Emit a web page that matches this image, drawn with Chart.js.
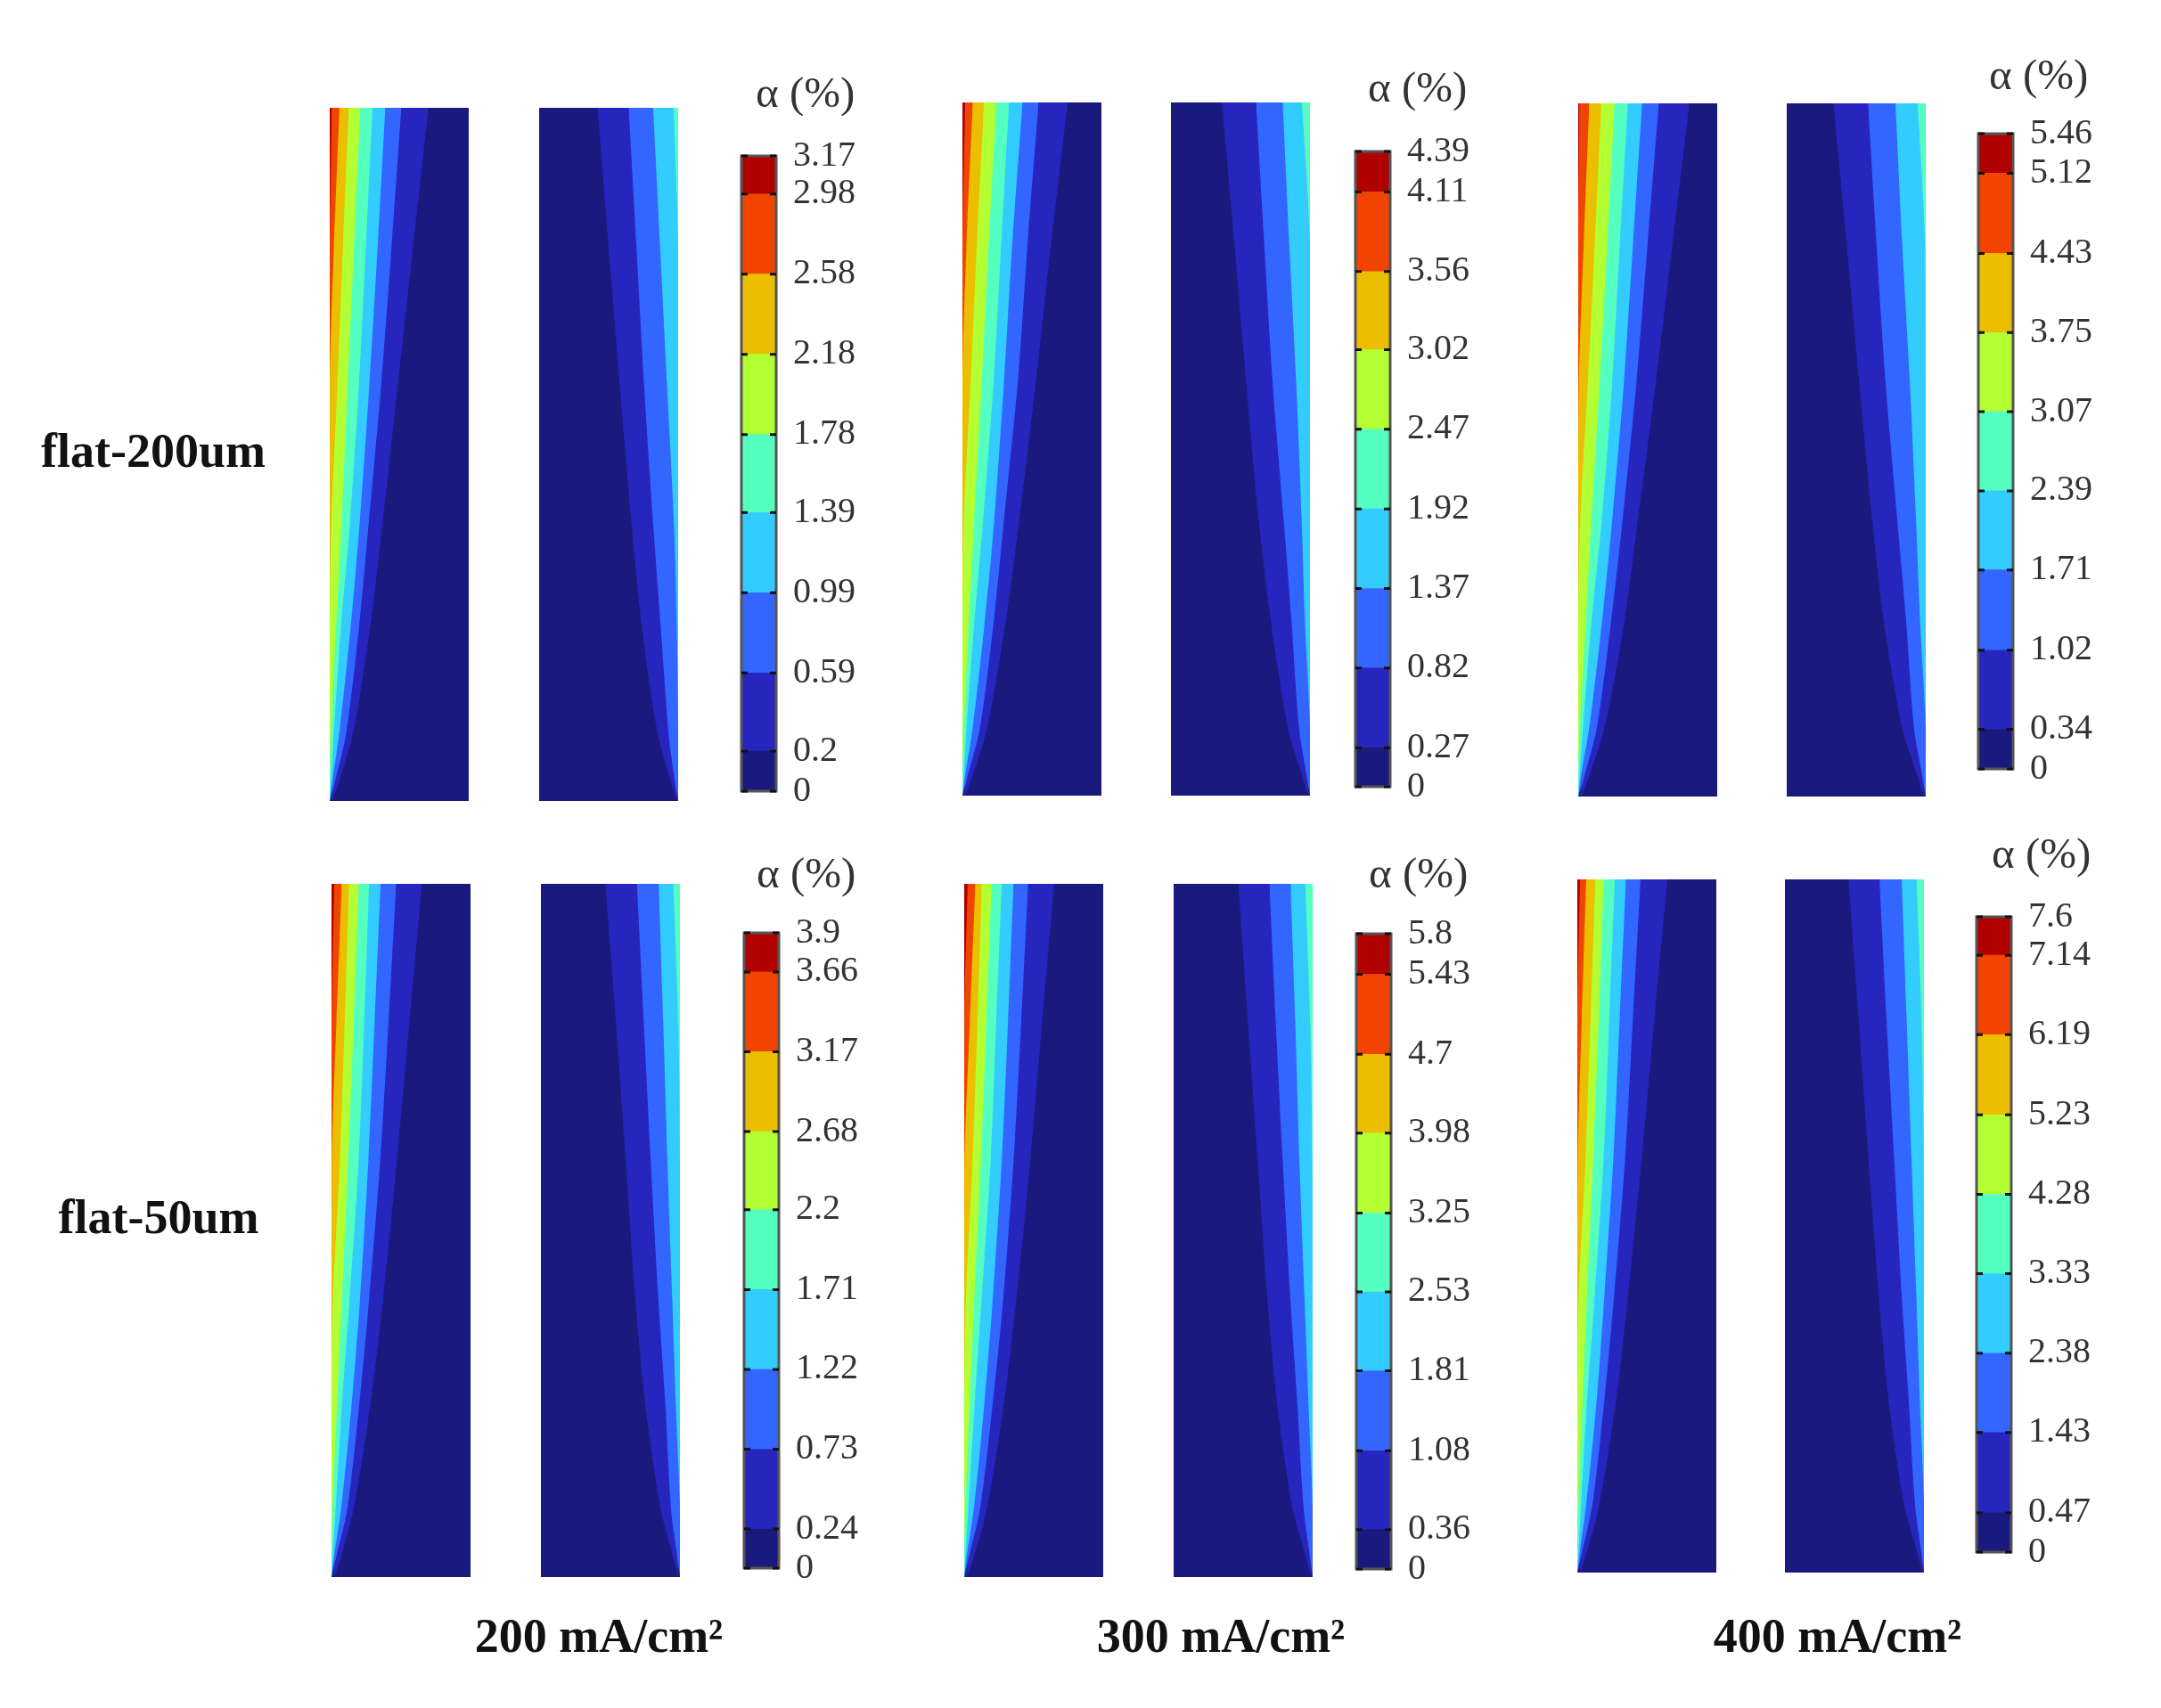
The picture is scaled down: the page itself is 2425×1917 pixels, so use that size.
<!DOCTYPE html>
<html>
<head>
<meta charset="utf-8">
<title>flat-200um / flat-50um</title>
<script src="https://cdn.jsdelivr.net/npm/chart.js@4"></script>
<style>
  html, body { margin: 0; background: #fff; }
  #page { position: relative; width: 2425px; height: 1917px; overflow: hidden; background: #fff; filter: blur(0.7px); }
  canvas { position: absolute; }
  .txt { position: absolute; font-family: "Liberation Serif", serif; white-space: nowrap; transform: translate(-50%, -50%); }
  .bold { font-weight: bold; font-size: 54px; color: #111; }
  .alpha { font-size: 49px; color: #333; transform: translate(0, -50%); }
</style>
</head>
<body>
<div id="page"></div>
<script>
// Colour bar levels
const levels200 = [0, 0.2, 0.59, 0.99, 1.39, 1.78, 2.18, 2.58, 2.98, 3.17];
const levels300 = [0, 0.27, 0.82, 1.37, 1.92, 2.47, 3.02, 3.56, 4.11, 4.39];
const levels400 = [0, 0.34, 1.02, 1.71, 2.39, 3.07, 3.75, 4.43, 5.12, 5.46];
const levels200b = [0, 0.24, 0.73, 1.22, 1.71, 2.2, 2.68, 3.17, 3.66, 3.9];
const levels300b = [0, 0.36, 1.08, 1.81, 2.53, 3.25, 3.98, 4.7, 5.43, 5.8];
const levels400b = [0, 0.47, 1.43, 2.38, 3.33, 4.28, 5.23, 6.19, 7.14, 7.6];

const bandColors = ['#1a1a7e', '#2626bf', '#3366ff', '#33ccff', '#55ffc0', '#b3ff33', '#ebbf00', '#f04400', '#b00000'];

// Relative height in the channel where each contour was read
const heights = [0, 0.03, 0.1, 0.25, 0.4, 0.6, 0.8, 1];

// Contour widths from the outer wall, one row per contour starting at the lowest level
const left200 = [
  [0.02, 0.07, 0.17, 0.29, 0.38, 0.49, 0.6, 0.71],
  [0, 0.04, 0.12, 0.21, 0.28, 0.37, 0.445, 0.515],
  [0, 0.02, 0.07, 0.15, 0.215, 0.285, 0.345, 0.4],
  [0, 0.01, 0.03, 0.08, 0.145, 0.21, 0.26, 0.308],
  [0, 0, 0.01, 0.045, 0.085, 0.13, 0.175, 0.22],
  [0, 0, 0, 0, 0.012, 0.055, 0.095, 0.137],
  [0, 0, 0, 0, 0, 0, 0.03, 0.07],
  [0, 0, 0, 0, 0, 0, 0, 0.015]
];
const right200 = [
  [0.01, 0.055, 0.15, 0.26, 0.335, 0.42, 0.5, 0.58],
  [0, 0.025, 0.07, 0.125, 0.18, 0.245, 0.3, 0.356],
  [0, 0, 0, 0.01, 0.03, 0.08, 0.13, 0.18],
  [0, 0, 0, 0, 0, 0, 0, 0.032]
];
const left300 = [
  [0.02, 0.075, 0.18, 0.31, 0.41, 0.53, 0.64, 0.757],
  [0, 0.04, 0.128, 0.224, 0.3, 0.4, 0.47, 0.548],
  [0, 0.02, 0.075, 0.16, 0.23, 0.3, 0.36, 0.433],
  [0, 0.01, 0.03, 0.085, 0.15, 0.225, 0.28, 0.335],
  [0, 0, 0.01, 0.047, 0.085, 0.14, 0.19, 0.245],
  [0, 0, 0, 0, 0.01, 0.06, 0.105, 0.155],
  [0, 0, 0, 0, 0, 0, 0.03, 0.075],
  [0, 0, 0, 0, 0, 0, 0, 0.02]
];
const right300 = [
  [0.01, 0.058, 0.16, 0.28, 0.37, 0.46, 0.545, 0.633],
  [0, 0.025, 0.08, 0.132, 0.19, 0.27, 0.33, 0.388],
  [0, 0, 0, 0.036, 0.06, 0.1, 0.15, 0.196],
  [0, 0, 0, 0, 0, 0, 0, 0.058]
];
const left400 = [
  [0.02, 0.08, 0.19, 0.33, 0.43, 0.56, 0.68, 0.8],
  [0, 0.045, 0.135, 0.235, 0.32, 0.42, 0.5, 0.58],
  [0, 0.02, 0.08, 0.17, 0.245, 0.33, 0.395, 0.46],
  [0, 0.01, 0.035, 0.095, 0.17, 0.245, 0.3, 0.357],
  [0, 0, 0.012, 0.055, 0.095, 0.155, 0.21, 0.262],
  [0, 0, 0, 0, 0.015, 0.07, 0.12, 0.166],
  [0, 0, 0, 0, 0, 0.005, 0.04, 0.08],
  [0, 0, 0, 0, 0, 0, 0, 0.01]
];
const right400 = [
  [0.01, 0.06, 0.17, 0.3, 0.385, 0.48, 0.57, 0.664],
  [0, 0.025, 0.085, 0.14, 0.205, 0.29, 0.355, 0.415],
  [0, 0, 0, 0.04, 0.07, 0.115, 0.17, 0.218],
  [0, 0, 0, 0, 0, 0, 0.005, 0.058]
];
const left200b = [
  [0.02, 0.07, 0.16, 0.28, 0.37, 0.47, 0.56, 0.65],
  [0, 0.035, 0.115, 0.2, 0.27, 0.35, 0.41, 0.465],
  [0, 0.018, 0.07, 0.145, 0.205, 0.265, 0.31, 0.353],
  [0, 0.008, 0.03, 0.075, 0.13, 0.195, 0.235, 0.27],
  [0, 0, 0.008, 0.04, 0.075, 0.12, 0.16, 0.197],
  [0, 0, 0, 0, 0.01, 0.06, 0.095, 0.127],
  [0, 0, 0, 0, 0, 0.002, 0.035, 0.074],
  [0, 0, 0, 0, 0, 0, 0, 0.02]
];
const right200b = [
  [0.01, 0.05, 0.14, 0.25, 0.32, 0.39, 0.46, 0.536],
  [0, 0.02, 0.065, 0.105, 0.155, 0.21, 0.26, 0.309],
  [0, 0, 0, 0.03, 0.055, 0.09, 0.12, 0.153],
  [0, 0, 0, 0, 0, 0, 0.012, 0.047]
];
const left300b = [
  [0.02, 0.07, 0.165, 0.285, 0.375, 0.475, 0.56, 0.647],
  [0, 0.035, 0.115, 0.205, 0.28, 0.355, 0.41, 0.46],
  [0, 0.018, 0.07, 0.145, 0.205, 0.27, 0.315, 0.355],
  [0, 0.008, 0.03, 0.075, 0.125, 0.19, 0.23, 0.27],
  [0, 0, 0.008, 0.04, 0.072, 0.12, 0.16, 0.197],
  [0, 0, 0, 0, 0.012, 0.06, 0.095, 0.127],
  [0, 0, 0, 0, 0, 0.002, 0.04, 0.08],
  [0, 0, 0, 0, 0, 0, 0, 0.025]
];
const right300b = [
  [0.01, 0.05, 0.145, 0.255, 0.325, 0.395, 0.465, 0.534],
  [0, 0.02, 0.065, 0.11, 0.16, 0.215, 0.265, 0.311],
  [0, 0, 0, 0.03, 0.058, 0.095, 0.125, 0.159],
  [0, 0, 0, 0, 0, 0.002, 0.018, 0.053]
];
const left400b = [
  [0.02, 0.07, 0.16, 0.28, 0.365, 0.465, 0.555, 0.648],
  [0, 0.035, 0.11, 0.195, 0.265, 0.345, 0.4, 0.455],
  [0, 0.018, 0.065, 0.14, 0.195, 0.26, 0.305, 0.35],
  [0, 0.008, 0.028, 0.07, 0.125, 0.19, 0.23, 0.27],
  [0, 0, 0.008, 0.038, 0.07, 0.115, 0.155, 0.19],
  [0, 0, 0, 0, 0.01, 0.06, 0.095, 0.13],
  [0, 0, 0, 0, 0, 0.004, 0.032, 0.064],
  [0, 0, 0, 0, 0, 0, 0, 0.02]
];
const right400b = [
  [0.01, 0.05, 0.145, 0.255, 0.325, 0.4, 0.47, 0.543],
  [0, 0.02, 0.065, 0.11, 0.16, 0.215, 0.27, 0.32],
  [0, 0, 0, 0.03, 0.055, 0.09, 0.125, 0.16],
  [0, 0, 0, 0, 0, 0.002, 0.018, 0.053]
];

const rowLabels = ['flat-200um', 'flat-50um'];
const colLabels = ['200 mA/cm²', '300 mA/cm²', '400 mA/cm²'];
const barTitle = 'α (%)';

// Page layout, in pixels
const panelW = 156, panelH = 778, barW = 39, barH = 713;
const groups = [
  { left: left200, right: right200, levels: levels200, lx: 370, rx: 605, py: 121, bx: 832, by: 175, tx: 848, ty: 103 },
  { left: left300, right: right300, levels: levels300, lx: 1080, rx: 1314, py: 115, bx: 1521, by: 170, tx: 1535, ty: 97 },
  { left: left400, right: right400, levels: levels400, lx: 1771, rx: 2005, py: 116, bx: 2220, by: 150, tx: 2232, ty: 83 },
  { left: left200b, right: right200b, levels: levels200b, lx: 372, rx: 607, py: 992, bx: 835, by: 1047, tx: 849, ty: 979 },
  { left: left300b, right: right300b, levels: levels300b, lx: 1082, rx: 1317, py: 992, bx: 1522, by: 1048, tx: 1536, ty: 979 },
  { left: left400b, right: right400b, levels: levels400b, lx: 1770, rx: 2003, py: 987, bx: 2218, by: 1029, tx: 2235, ty: 957 }
];

const page = document.getElementById('page');
Chart.defaults.animation = false;
Chart.defaults.responsive = false;
Chart.defaults.devicePixelRatio = 1;
Chart.defaults.font.family = '"Liberation Serif", serif';

function addCanvas(x, y, w, h) {
  const c = document.createElement('canvas');
  c.width = w;
  c.height = h;
  c.style.left = x + 'px';
  c.style.top = y + 'px';
  page.appendChild(c);
  return c;
}

function addText(text, x, y, cls) {
  const d = document.createElement('div');
  d.className = 'txt ' + cls;
  d.textContent = text;
  d.style.left = x + 'px';
  d.style.top = y + 'px';
  page.appendChild(d);
}

// One channel: navy base, then every contour filled up to the top of the plot
function drawPanel(x, y, rows, mirrored) {
  const datasets = [{
    data: [{ x: 0, y: 0 }, { x: 1, y: 0 }],
    backgroundColor: bandColors[0], fill: 'end', order: 0
  }];
  rows.forEach((row, i) => {
    datasets.push({
      data: row.map((w, k) => ({ x: w, y: heights[k] })),
      backgroundColor: bandColors[i + 1], fill: 'end', order: -(i + 1)
    });
  });
  new Chart(addCanvas(x, y, panelW, panelH), {
    type: 'scatter',
    data: { datasets: datasets },
    options: {
      showLine: true,
      borderWidth: 0,
      pointRadius: 0,
      layout: { padding: 0 },
      plugins: { legend: { display: false }, tooltip: { enabled: false } },
      elements: { line: { borderWidth: 0, tension: 0.3 }, point: { radius: 0 } },
      scales: {
        x: { type: 'linear', min: 0, max: 1, reverse: mirrored, display: false },
        y: { type: 'linear', min: 0, max: 1, display: false }
      }
    }
  });
}

// Frame and the short inner ticks of the colour bar
const barFrame = {
  id: 'barFrame',
  afterDatasetsDraw(chart) {
    const { ctx, chartArea: a, scales } = chart;
    ctx.save();
    ctx.strokeStyle = '#555';
    ctx.lineWidth = 3;
    ctx.strokeRect(a.left, a.top, a.right - a.left, a.bottom - a.top);
    ctx.strokeStyle = '#111';
    scales.y.ticks.forEach(t => {
      const py = scales.y.getPixelForValue(t.value);
      ctx.beginPath();
      ctx.moveTo(a.left, py); ctx.lineTo(a.left + 7, py);
      ctx.moveTo(a.right - 7, py); ctx.lineTo(a.right, py);
      ctx.stroke();
    });
    ctx.restore();
  }
};

function drawBar(x, y, levels) {
  const pad = 32;
  const axisW = 115;
  const datasets = bandColors.map((color, i) => ({
    data: [[levels[i], levels[i + 1]]],
    backgroundColor: color,
    grouped: false,
    barPercentage: 1,
    categoryPercentage: 1
  }));
  new Chart(addCanvas(x - 2, y - pad, barW + axisW + 2, barH + pad * 2), {
    type: 'bar',
    data: { labels: [''], datasets: datasets },
    options: {
      layout: { padding: { top: pad, bottom: pad, left: 2, right: 0 } },
      plugins: { legend: { display: false }, tooltip: { enabled: false } },
      scales: {
        x: { display: false },
        y: {
          position: 'right',
          min: 0,
          max: levels[levels.length - 1],
          grid: { display: false },
          border: { display: false },
          afterBuildTicks: scale => { scale.ticks = levels.map(v => ({ value: v })); },
          afterFit: scale => {
            scale.width = axisW;
            scale.paddingTop = 0;
            scale.paddingBottom = 0;
          },
          ticks: {
            autoSkip: false,
            padding: 11,
            color: '#333',
            font: { size: 40 },
            callback: v => String(v)
          }
        }
      }
    },
    plugins: [barFrame]
  });
}

groups.forEach(g => {
  drawPanel(g.lx, g.py, g.left, false);
  drawPanel(g.rx, g.py, g.right, true);
  drawBar(g.bx, g.by, g.levels);
  addText(barTitle, g.tx, g.ty, 'alpha');
});

addText(rowLabels[0], 172, 506, 'bold');
addText(rowLabels[1], 178, 1366, 'bold');
addText(colLabels[0], 672, 1836, 'bold');
addText(colLabels[1], 1370, 1836, 'bold');
addText(colLabels[2], 2062, 1836, 'bold');
</script>
</body>
</html>
